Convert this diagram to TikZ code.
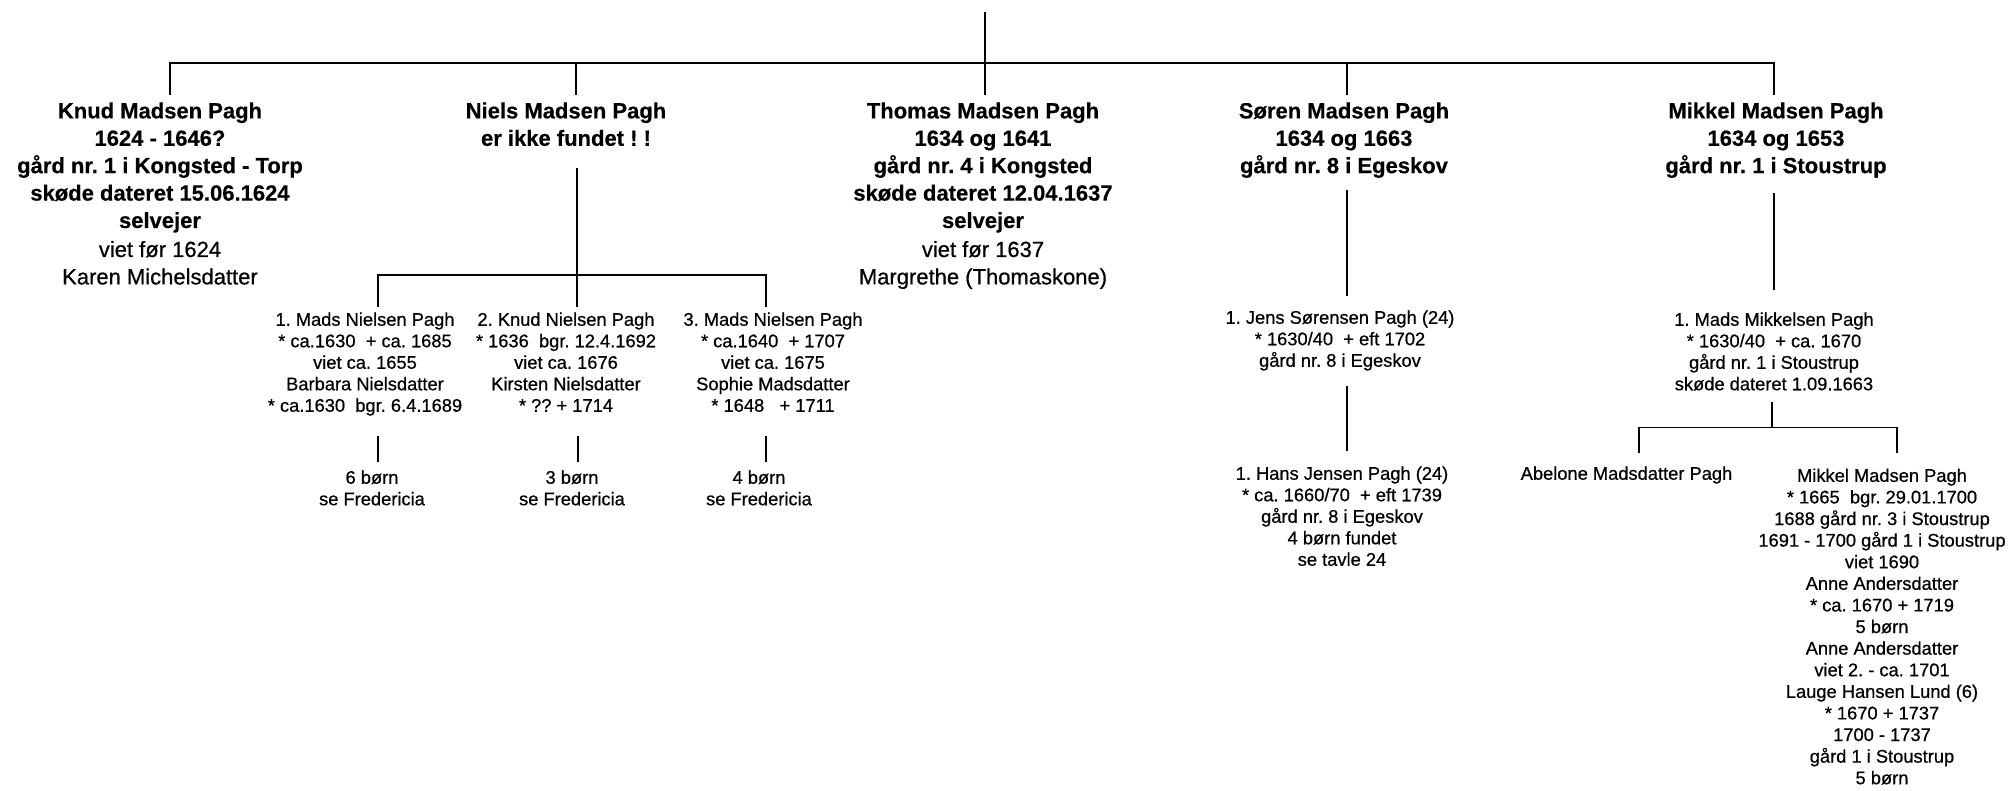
\documentclass[tikz,border=0pt]{standalone}
\usepackage{fontspec}
\setmainfont{Liberation Sans}
\newfontface\kidface{Liberation Sans}[FakeBold=0.6]
\newfontface\hdrface{Liberation Sans Bold}[FakeBold=0.4]
\newfontface\hdrreg{Liberation Sans}[FakeBold=0.6]
\frenchspacing
\begin{document}
\begin{tikzpicture}[x=1pt,y=-1pt,
  conn/.style={line width=1.7pt,black},
  hdr/.style={font=\hdrface\fontsize{22}{27.4}\selectfont,align=center,inner sep=0pt,anchor=north},
  kid/.style={font=\kidface\fontsize{18.3}{21.5}\selectfont,align=center,inner sep=0pt,anchor=north}]
\useasboundingbox[fill=white] (0,0) rectangle (2011,790);

% ---------- header generation ----------
\node[hdr] (knud) at (160,99) {\strut Knud Madsen Pagh\\1624 - 1646?\\gård nr. 1 i Kongsted - Torp\\skøde dateret 15.06.1624\\selvejer\\[1.6pt]\hdrreg viet før 1624\\\hdrreg Karen Michelsdatter};
\node[hdr] (niels) at (566,99) {\strut Niels Madsen Pagh\\er ikke fundet ! !};
\node[hdr] (thomas) at (983,99) {\strut Thomas Madsen Pagh\\1634 og 1641\\gård nr. 4 i Kongsted\\skøde dateret 12.04.1637\\selvejer\\[1.6pt]\hdrreg viet før 1637\\\hdrreg Margrethe (Thomaskone)};
\node[hdr] (soren) at (1344,99) {\strut Søren Madsen Pagh\\1634 og 1663\\gård nr. 8 i Egeskov};
\node[hdr] (mikkel) at (1776,99) {\strut Mikkel Madsen Pagh\\1634 og 1653\\gård nr. 1 i Stoustrup};

% ---------- Niels' children ----------
\node[kid] (mads1) at (365,310.5) {\strut 1. Mads Nielsen Pagh\\* ca.1630 \ + ca. 1685\\viet ca. 1655\\Barbara Nielsdatter\\* ca.1630 \ bgr. 6.4.1689};
\node[kid] (knud2) at (566,310.5) {\strut 2. Knud Nielsen Pagh\\* 1636 \ bgr. 12.4.1692\\viet ca. 1676\\Kirsten Nielsdatter\\* ?? + 1714};
\node[kid] (mads3) at (773,310.5) {\strut 3. Mads Nielsen Pagh\\* ca.1640 \ + 1707\\viet ca. 1675\\Sophie Madsdatter\\* 1648 \ \ + 1711};
\node[kid] (born1) at (372,468.5) {\strut 6 børn\\se Fredericia};
\node[kid] (born2) at (572,468.5) {\strut 3 børn\\se Fredericia};
\node[kid] (born3) at (759,468.5) {\strut 4 børn\\se Fredericia};

% ---------- Søren's line ----------
\node[kid] (jens) at (1340,308.5) {\strut 1. Jens Sørensen Pagh (24)\\* 1630/40 \ + eft 1702\\gård nr. 8 i Egeskov};
\node[kid] (hans) at (1342,464.5) {\strut 1. Hans Jensen Pagh (24)\\* ca. 1660/70 \ + eft 1739\\gård nr. 8 i Egeskov\\4 børn fundet\\se tavle 24};

% ---------- Mikkel's line ----------
\node[kid] (madsm) at (1774,310.5) {\strut 1. Mads Mikkelsen Pagh\\* 1630/40 \ + ca. 1670\\gård nr. 1 i Stoustrup\\skøde dateret 1.09.1663};
\node[kid] (abelone) at (1626.5,464.5) {\strut Abelone Madsdatter Pagh};
\node[kid,font=\kidface\fontsize{18.3}{21.6}\selectfont] (mikkel2) at (1882,466.5) {\strut Mikkel Madsen Pagh\\* 1665 \ bgr. 29.01.1700\\1688 gård nr. 3 i Stoustrup\\1691 - 1700 gård 1 i Stoustrup\\viet 1690\\Anne Andersdatter\\* ca. 1670 + 1719\\5 børn\\Anne Andersdatter\\viet 2. - ca. 1701\\Lauge Hansen Lund (6)\\* 1670 + 1737\\1700 - 1737\\gård 1 i Stoustrup\\5 børn};

% ---------- junction points ----------
\coordinate (root) at (985,12);
\coordinate (bar) at (985,62.7);
\coordinate (knudIn) at (170,95);
\coordinate (nielsIn) at (576,95);
\coordinate (thomasIn) at (985,95);
\coordinate (sorenIn) at (1347,95);
\coordinate (mikkelIn) at (1774,95);

\coordinate (nielsOut) at (577,168);
\coordinate (nbar) at (577,275);
\coordinate (mads1In) at (378,307);
\coordinate (knud2In) at (577,307);
\coordinate (mads3In) at (766,307);
\coordinate (mads1Out) at (378,436);
\coordinate (knud2Out) at (578,436);
\coordinate (mads3Out) at (766,436);
\coordinate (born1In) at (378,462);
\coordinate (born2In) at (578,462);
\coordinate (born3In) at (766,462);

\coordinate (sorenOut) at (1347,190);
\coordinate (jensIn) at (1347,296);
\coordinate (jensOut) at (1347,386);
\coordinate (hansIn) at (1347,451);

\coordinate (mikkelOut) at (1774,193);
\coordinate (madsmIn) at (1774,290);
\coordinate (madsmOut) at (1772,402);
\coordinate (mbar) at (1772,427.5);
\coordinate (abeloneIn) at (1639,453);
\coordinate (mikkel2In) at (1897,453);

% ---------- connectors ----------
\draw[conn] (root) -- (bar);
\draw[conn] (knudIn) -- (knudIn |- bar) -- (mikkelIn |- bar) -- (mikkelIn);
\draw[conn] (nielsIn |- bar) -- (nielsIn);
\draw[conn] (thomasIn |- bar) -- (thomasIn);
\draw[conn] (sorenIn |- bar) -- (sorenIn);

\draw[conn] (nielsOut) -- (knud2In);
\draw[conn] (mads1In) -- (mads1In |- nbar) -- (mads3In |- nbar) -- (mads3In);
\draw[conn] (mads1Out) -- (born1In);
\draw[conn] (knud2Out) -- (born2In);
\draw[conn] (mads3Out) -- (born3In);

\draw[conn] (sorenOut) -- (jensIn);
\draw[conn] (jensOut) -- (hansIn);

\draw[conn] (mikkelOut) -- (madsmIn);
\draw[conn] (madsmOut) -- (mbar);
\draw[conn] (abeloneIn) -- (abeloneIn |- mbar) -- (mikkel2In |- mbar) -- (mikkel2In);
\end{tikzpicture}
\end{document}
